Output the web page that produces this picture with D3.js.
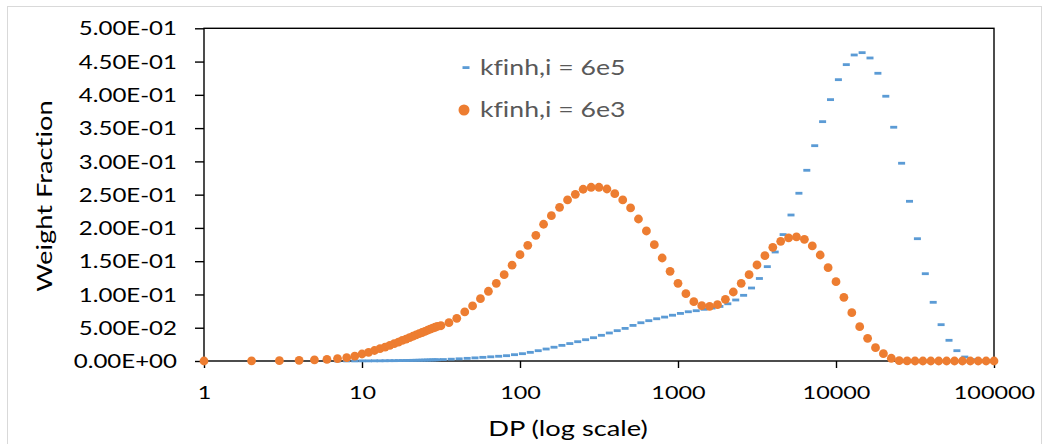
<!DOCTYPE html>
<html>
<head>
<meta charset="utf-8">
<script src="https://cdn.jsdelivr.net/npm/d3@7"></script>
<style>
  html, body { margin: 0; padding: 0; background: #fff; }
  svg { display: block; }
  svg text { font-variant-ligatures: none; font-feature-settings: "liga" 0; }
</style>
</head>
<body>
<div id="chart"></div>
<script>
// integer DP up to 30, then 20 points per decade
const orangeDP = [1, 2, 3, 4, 5, 6, 7, 8, 9, 10, 11, 12, 13, 14, 15, 16, 17, 18, 19, 20,
  21, 22, 23, 24, 25, 26, 27, 28, 29, 30,
  31.6, 35.5, 39.8, 44.7, 50.1, 56.2, 63.1, 70.8, 79.4, 89.1,
  100, 112, 126, 141, 158, 178, 200, 224, 251, 282,
  316, 355, 398, 447, 501, 562, 631, 708, 794, 891,
  1000, 1122, 1259, 1413, 1585, 1778, 1995, 2239, 2512, 2818,
  3162, 3548, 3981, 4467, 5012, 5623, 6310, 7079, 7943, 8913,
  10000, 11220, 12589, 14125, 15849, 17783, 19953, 22387, 25119, 28184,
  31623, 35481, 39811, 44668, 50119, 56234, 63096, 70795, 79433, 89125, 100000];
const orangeWF = [0, 0.0002, 0.0005, 0.001, 0.0016, 0.0025, 0.0036, 0.005, 0.0072, 0.0105,
  0.013, 0.0158, 0.0185, 0.021, 0.0235, 0.026, 0.0285, 0.031, 0.033, 0.0352,
  0.0372, 0.0392, 0.041, 0.0428, 0.0445, 0.0462, 0.0478, 0.0493, 0.0507, 0.052,
  0.053, 0.0576, 0.0642, 0.0737, 0.0827, 0.0936, 0.1048, 0.1168, 0.1297, 0.144,
  0.1598, 0.1739, 0.1889, 0.2055, 0.2184, 0.231, 0.242, 0.2505, 0.2581, 0.2611,
  0.2611, 0.2585, 0.2515, 0.242, 0.23, 0.2134, 0.1954, 0.1748, 0.1548, 0.1348,
  0.1168, 0.1012, 0.0891, 0.0831, 0.0822, 0.0846, 0.0927, 0.1037, 0.1168, 0.1297,
  0.1443, 0.1583, 0.1709, 0.1799, 0.1849, 0.1864, 0.1829, 0.1729, 0.1593, 0.1402,
  0.1192, 0.0957, 0.0726, 0.0516, 0.0341, 0.02, 0.011, 0.0041, 0.0005, 0.0001,
  0, 0, 0, 0, 0, 0, 0, 0, 0, 0, 0];

const blueDP = [6, 7, 8, 9, 10, 11, 12, 13, 14, 15, 16, 17, 18, 19, 20,
  21, 22, 23, 24, 25, 26, 27, 28, 29, 30,
  32.7, 36.7, 41.2, 46.3, 51.9, 58.2, 65.3, 73.3, 82.2, 92.3,
  103.6, 116.2, 130.4, 146.3, 164.2, 184.2, 206.7, 231.9, 260.2, 292.0,
  327.5, 367.5, 412.3, 462.7, 519.1, 582.5, 653.5, 733.2, 822.7, 923.1,
  1036, 1162, 1304, 1463, 1642, 1842, 2067, 2319, 2602, 2920,
  3275, 3675, 4123, 4627, 5191, 5825, 6535, 7332, 8227, 9231,
  10356, 11620, 13038, 14629, 16414, 18417, 20664, 23186, 26015, 29190,
  32752, 36749, 41233, 46265, 51911, 58246, 65354, 73330, 82278, 92318];
const blueWF = [0, 0, 0.0001, 0.0001, 0.0002, 0.0002, 0.0003, 0.0003, 0.0004, 0.0005,
  0.0005, 0.0006, 0.0007, 0.0008, 0.0009, 0.001, 0.0011, 0.0012, 0.0013, 0.0014,
  0.0015, 0.0016, 0.0017, 0.0018, 0.0019,
  0.0022, 0.0027, 0.0033, 0.004, 0.0047, 0.0055, 0.0063, 0.0071, 0.008, 0.0095,
  0.011, 0.013, 0.0155, 0.018, 0.0207, 0.0235, 0.0262, 0.029, 0.032, 0.035,
  0.0386, 0.0421, 0.0456, 0.049, 0.0535, 0.0575, 0.0606, 0.0635, 0.066, 0.0688,
  0.0715, 0.074, 0.0756, 0.0777, 0.0795, 0.082, 0.086, 0.0917, 0.0987, 0.1097,
  0.124, 0.1418, 0.1638, 0.19, 0.2194, 0.2521, 0.2866, 0.3236, 0.3597, 0.3928,
  0.4228, 0.4454, 0.4599, 0.4634, 0.4554, 0.4324, 0.3979, 0.3513, 0.2972, 0.24,
  0.1838, 0.1312, 0.0882, 0.0546, 0.0311, 0.0155, 0.006, 0.002, 0.0005, 0.0001];

const seriesNames = ['kfinh,i = 6e5', 'kfinh,i = 6e3'];
const xTicks = [1, 10, 100, 1000, 10000, 100000];
const xTickLabels = ['1', '10', '100', '1000', '10000', '100000'];
const yTicks = [0, 0.05, 0.1, 0.15, 0.2, 0.25, 0.3, 0.35, 0.4, 0.45, 0.5];
const yTickLabels = ['0.00E+00', '5.00E-02', '1.00E-01', '1.50E-01', '2.00E-01', '2.50E-01',
  '3.00E-01', '3.50E-01', '4.00E-01', '4.50E-01', '5.00E-01'];

const WIDTH = 1049;
const HEIGHT = 444;
const PLOT = { left: 204, right: 994, top: 28.3, bottom: 361 };
const BLUE = '#5b9bd5';
const ORANGE = '#ed7d31';
const FONT = 'Lato, "Open Sans", sans-serif';
const SX = 1.3; // picture is stretched sideways

const svg = d3.select('#chart')
  .append('svg')
  .attr('width', WIDTH)
  .attr('height', HEIGHT);

// outer chart frame
svg.append('rect')
  .attr('x', 7.5).attr('y', 6.5)
  .attr('width', 1034).attr('height', 444)
  .attr('fill', 'none')
  .attr('stroke', '#d9d9d9')
  .attr('stroke-width', 1);

const x = d3.scaleLog().domain([1, 100000]).range([PLOT.left, PLOT.right]);
const y = d3.scaleLinear().domain([0, 0.5]).range([PLOT.bottom, PLOT.top]);

// y axis
const yAxisG = svg.append('g')
  .attr('transform', `translate(${PLOT.left},0)`)
  .call(d3.axisLeft(y).tickValues(yTicks).tickSize(9)
    .tickFormat((d, i) => yTickLabels[i]));
yAxisG.select('.domain').remove();
yAxisG.selectAll('line').attr('stroke', '#000').attr('stroke-width', 1.4);
yAxisG.selectAll('text')
  .attr('x', 0)
  .attr('dy', '0.36em')
  .attr('transform', `translate(-27,0) scale(${SX},1)`)
  .attr('fill', '#000')
  .attr('font-family', FONT)
  .attr('font-size', '18.5px');

// x axis
const xAxisG = svg.append('g')
  .attr('transform', `translate(0,${PLOT.bottom})`)
  .call(d3.axisBottom(x).tickValues(xTicks).tickSize(7)
    .tickFormat((d, i) => xTickLabels[i]));
xAxisG.select('.domain').remove();
xAxisG.selectAll('line').attr('stroke', '#000').attr('stroke-width', 1.4);
xAxisG.selectAll('text')
  .attr('y', 38.3)
  .attr('dy', 0)
  .attr('transform', `scale(${SX},1)`)
  .attr('fill', '#000')
  .attr('font-family', FONT)
  .attr('font-size', '18px');

// plot box
svg.append('rect')
  .attr('x', PLOT.left).attr('y', PLOT.top)
  .attr('width', PLOT.right - PLOT.left)
  .attr('height', PLOT.bottom - PLOT.top)
  .attr('fill', 'none')
  .attr('stroke', '#000')
  .attr('stroke-width', 1.4);

// axis titles
svg.append('text')
  .attr('transform', `translate(568,436) scale(${SX},1)`)
  .attr('text-anchor', 'middle')
  .attr('font-family', FONT)
  .attr('font-size', '21px')
  .attr('fill', '#000')
  .text('DP (log scale)');

svg.append('text')
  .attr('transform', `translate(52,196) rotate(-90) scale(${SX},1)`)
  .attr('text-anchor', 'middle')
  .attr('font-family', FONT)
  .attr('font-size', '21px')
  .attr('fill', '#000')
  .text('Weight Fraction');

// series: blue dashes first, orange circles on top
const blueData = blueDP.map((d, i) => ({ dp: d, wf: blueWF[i] }));
const orangeData = orangeDP.map((d, i) => ({ dp: d, wf: orangeWF[i] }));

svg.append('g')
  .selectAll('rect')
  .data(blueData)
  .join('rect')
  .attr('x', (d) => x(d.dp) - 3.5)
  .attr('y', (d) => y(d.wf) - 1.4)
  .attr('width', 7)
  .attr('height', 2.8)
  .attr('fill', BLUE);

svg.append('g')
  .selectAll('circle')
  .data(orangeData)
  .join('circle')
  .attr('cx', (d) => x(d.dp))
  .attr('cy', (d) => y(d.wf))
  .attr('r', 4.4)
  .attr('fill', ORANGE);

// legend
const legend = svg.append('g');
legend.append('rect')
  .attr('x', 462.5).attr('y', 66.2)
  .attr('width', 7).attr('height', 2.8)
  .attr('fill', BLUE);
legend.append('circle')
  .attr('cx', 464).attr('cy', 110)
  .attr('r', 5.5)
  .attr('fill', ORANGE);
legend.selectAll('text')
  .data(seriesNames)
  .join('text')
  .attr('transform', (d, i) => `translate(480,${75 + i * 41.7}) scale(${SX},1)`)
  .attr('font-family', FONT)
  .attr('font-size', '20.5px')
  .attr('fill', '#595959')
  .text((d) => d);
</script>
</body>
</html>
